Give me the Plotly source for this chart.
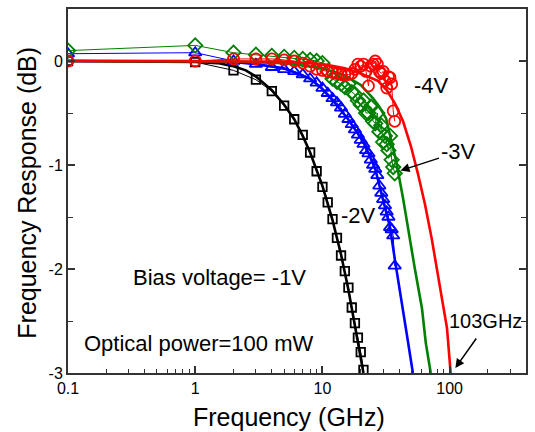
import plotly.graph_objects as go

# ---------------- data ----------------
# -1V : measured (black squares) and fit
f1 = [0.1, 1, 2, 3, 4, 5, 6, 7, 8, 9, 10, 11, 12, 13, 14, 15, 16, 17, 18, 19, 20, 21]
r1 = [0.0, -0.01, -0.09, -0.18, -0.29, -0.43, -0.56, -0.71, -0.88, -1.06, -1.21, -1.36,
      -1.52, -1.70, -1.87, -2.02, -2.18, -2.37, -2.52, -2.66, -2.80, -2.97]
f1_fit = [0.1, 1, 1.5, 2, 2.5, 3, 4, 5, 6, 7, 8, 10, 12, 14, 16, 18, 20, 21]
r1_fit = [0.0, -0.01, -0.02, -0.05, -0.09, -0.15, -0.28, -0.42, -0.56, -0.72, -0.88,
          -1.2, -1.53, -1.86, -2.2, -2.55, -2.85, -3.0]

# -2V : measured (blue triangles) and fit
f2 = [0.1, 1, 2, 3, 4, 5, 6, 7, 8, 9, 10, 11, 12, 13, 14, 15, 16, 17, 18, 19, 20,
      21, 22, 23, 24, 25, 26, 27, 28, 29, 30, 31, 32, 33, 34, 35, 36, 37]
r2 = [0.07, 0.08, 0.0, -0.03, -0.06, -0.08, -0.10, -0.13, -0.17, -0.21, -0.26, -0.31,
      -0.36, -0.40, -0.45, -0.51, -0.56, -0.61, -0.66, -0.71, -0.76, -0.80, -0.86,
      -0.89, -0.95, -1.00, -1.04, -1.10, -1.20, -1.27, -1.33, -1.39, -1.45, -1.50,
      -1.60, -1.62, -1.68, -1.97]
f2_fit = [0.1, 1, 2, 3, 5, 8, 9.8, 12.5, 15.9, 20.9, 25.9, 31, 34, 37.2, 40, 43, 46.9,
          51.4]
r2_fit = [0.0, 0.0, -0.01, -0.03, -0.07, -0.17, -0.26, -0.4, -0.56, -0.77, -1.03, -1.39,
          -1.6, -1.92, -2.15, -2.38, -2.69, -3.0]

# -3V : measured (green diamonds) and fit
f3 = [0.1, 1, 2, 3, 4, 5, 6, 7, 8, 9, 10, 11, 12, 13, 14, 15, 16, 17, 18, 19, 20,
      21, 22, 23, 24, 25, 26, 27, 28, 29, 30, 31, 32, 33, 34, 35, 36, 37]
r3 = [0.10, 0.15, 0.08, 0.06, 0.05, 0.04, 0.03, 0.02, 0.01, 0.0, -0.02, -0.10, -0.17,
      -0.20, -0.22, -0.25, -0.22, -0.30, -0.32, -0.38, -0.42, -0.38, -0.50, -0.50,
      -0.44, -0.58, -0.60, -0.50, -0.68, -0.62, -0.78, -0.72, -0.80, -0.86, -0.72,
      -0.95, -1.02, -1.08]
f3_fit = [0.1, 1, 2, 5, 10, 15, 20, 25, 28, 31.6, 34.5, 37.9, 43, 47.6, 53.3, 60.6,
          64.9, 71]
r3_fit = [0.0, 0.0, -0.005, -0.02, -0.07, -0.14, -0.23, -0.36, -0.44, -0.55, -0.74,
          -0.96, -1.32, -1.65, -2.0, -2.38, -2.71, -3.0]

# -4V : measured (red circles) and fit
f4 = [0.1, 1, 2, 3, 4, 5, 6, 7, 8, 9, 10, 11, 12, 13, 14, 15, 16, 17, 18, 19, 20,
      21, 22, 23, 24, 25, 26, 27, 28, 29, 30, 31, 32, 33, 34, 35, 36, 37]
r4 = [0.0, 0.0, 0.02, 0.02, 0.02, 0.01, 0.0, -0.02, -0.05, -0.08, -0.09, -0.10, -0.11,
      -0.12, -0.13, -0.13, -0.13, -0.12, -0.08, -0.03, -0.05, -0.03, -0.10, -0.24,
      -0.05, -0.03, 0.0, -0.03, -0.10, -0.12, -0.10, -0.19, -0.26, -0.15, -0.16,
      -0.22, -0.48, -0.58]
f4_fit = [0.1, 1, 5, 10, 15, 20, 27.3, 32, 37.2, 43, 49.6, 56.2, 64, 72.3, 82.9, 95.3,
          101.8]
r4_fit = [0.0, 0.0, -0.005, -0.03, -0.07, -0.12, -0.19, -0.28, -0.41, -0.58, -0.82,
          -1.08, -1.38, -1.71, -2.13, -2.57, -3.0]

x_tickvals = [0.1, 1, 10, 100]
x_ticktext = ["0.1", "1", "10", "100"]
x_minor = [0.2, 0.3, 0.4, 0.5, 0.6, 0.7, 0.8, 0.9, 2, 3, 4, 5, 6, 7, 8, 9,
           20, 30, 40, 50, 60, 70, 80, 90, 200, 300, 400]
y_tickvals = [-3, -2, -1, 0]
y_ticktext = ["-3", "-2", "-1", "0"]
y_minor = [-2.5, -1.5, -0.5]

series = [
    (f1, r1, f1_fit, r1_fit, "#000000", "square-open", 8.5),
    (f2, r2, f2_fit, r2_fit, "#0000ff", "triangle-up-open", 11),
    (f3, r3, f3_fit, r3_fit, "#008000", "diamond-open", 11),
    (f4, r4, f4_fit, r4_fit, "#ff0000", "circle-open", 11),
]

FONT = "Liberation Sans, Arial, Helvetica, sans-serif"

fig = go.Figure()
for fx, fy, gx, gy, col, sym, size in series:
    fig.add_trace(go.Scatter(
        x=fx, y=fy, mode="lines+markers",
        line=dict(color=col, width=1),
        marker=dict(symbol=sym, size=size, color=col, line=dict(color=col, width=1.8)),
        showlegend=False))
    fig.add_trace(go.Scatter(
        x=gx, y=gy, mode="lines", line=dict(color=col, width=2.6),
        showlegend=False))

fig.update_layout(
    width=535, height=432,
    margin=dict(l=68, r=7, t=8, b=59),
    paper_bgcolor="white", plot_bgcolor="white",
    font=dict(family=FONT, color="black"),
    showlegend=False,
)

fig.update_xaxes(
    type="log", range=[-1, 2.6],
    tickmode="array", tickvals=x_tickvals, ticktext=x_ticktext,
    ticks="inside", ticklen=7, tickwidth=1.5, tickcolor="#333",
    tickfont=dict(size=16, family=FONT),
    minor=dict(tickmode="array", tickvals=x_minor, ticks="inside", ticklen=4,
               tickwidth=1.2, tickcolor="#333", showgrid=False),
    showline=True, linecolor="#333", linewidth=2, mirror=True,
    showgrid=False, zeroline=False,
)
fig.update_yaxes(
    range=[-3, 0.5],
    tickmode="array", tickvals=y_tickvals, ticktext=y_ticktext,
    ticks="inside", ticklen=7, tickwidth=1.5, tickcolor="#333",
    tickfont=dict(size=16, family=FONT),
    minor=dict(tickmode="array", tickvals=y_minor, ticks="inside", ticklen=5,
               tickwidth=1.2, tickcolor="#333", showgrid=False),
    showline=True, linecolor="#333", linewidth=2, mirror="allticks",
    showgrid=False, zeroline=False,
)

ann = []
ann.append(dict(text="Frequency Response (dB)", x=-0.089, y=0.496, xref="paper", yref="paper",
                textangle=-90, showarrow=False, font=dict(size=25, family=FONT),
                xanchor="center", yanchor="middle"))
ann.append(dict(text="Frequency (GHz)", x=0.483, y=-0.121, xref="paper", yref="paper",
                showarrow=False, font=dict(size=25, family=FONT),
                xanchor="center", yanchor="middle"))
for txt, x, y, xa, sz in [("-4V", 0.7935, 0.789, "center", 22),
                          ("-3V", 0.852, 0.608, "center", 22),
                          ("-2V", 0.635, 0.433, "center", 22),
                          ("Bias voltage= -1V", 0.137, 0.263, "left", 22),
                          ("Optical power=100 mW", 0.0304, 0.082, "left", 22),
                          ("103GHz", 0.912, 0.142, "center", 20)]:
    ann.append(dict(text=txt, x=x, y=y, xref="paper", yref="paper", showarrow=False,
                    font=dict(size=sz, family=FONT), xanchor=xa, yanchor="middle"))
ann.append(dict(text="", x=0.726, y=0.556, xref="paper", yref="paper", showarrow=True,
                ax=40, ay=-13, arrowhead=2, arrowsize=1.2, arrowwidth=1.5, arrowcolor="black"))
ann.append(dict(text="", x=0.8457, y=0.0137, xref="paper", yref="paper", showarrow=True,
                ax=22, ay=-31, arrowhead=2, arrowsize=1.2, arrowwidth=1.5, arrowcolor="black"))
fig.update_layout(annotations=ann)

fig.write_html("out.html", config={"displayModeBar": False},
               post_script="document.body.style.margin='0';document.body.style.overflow='hidden';")
